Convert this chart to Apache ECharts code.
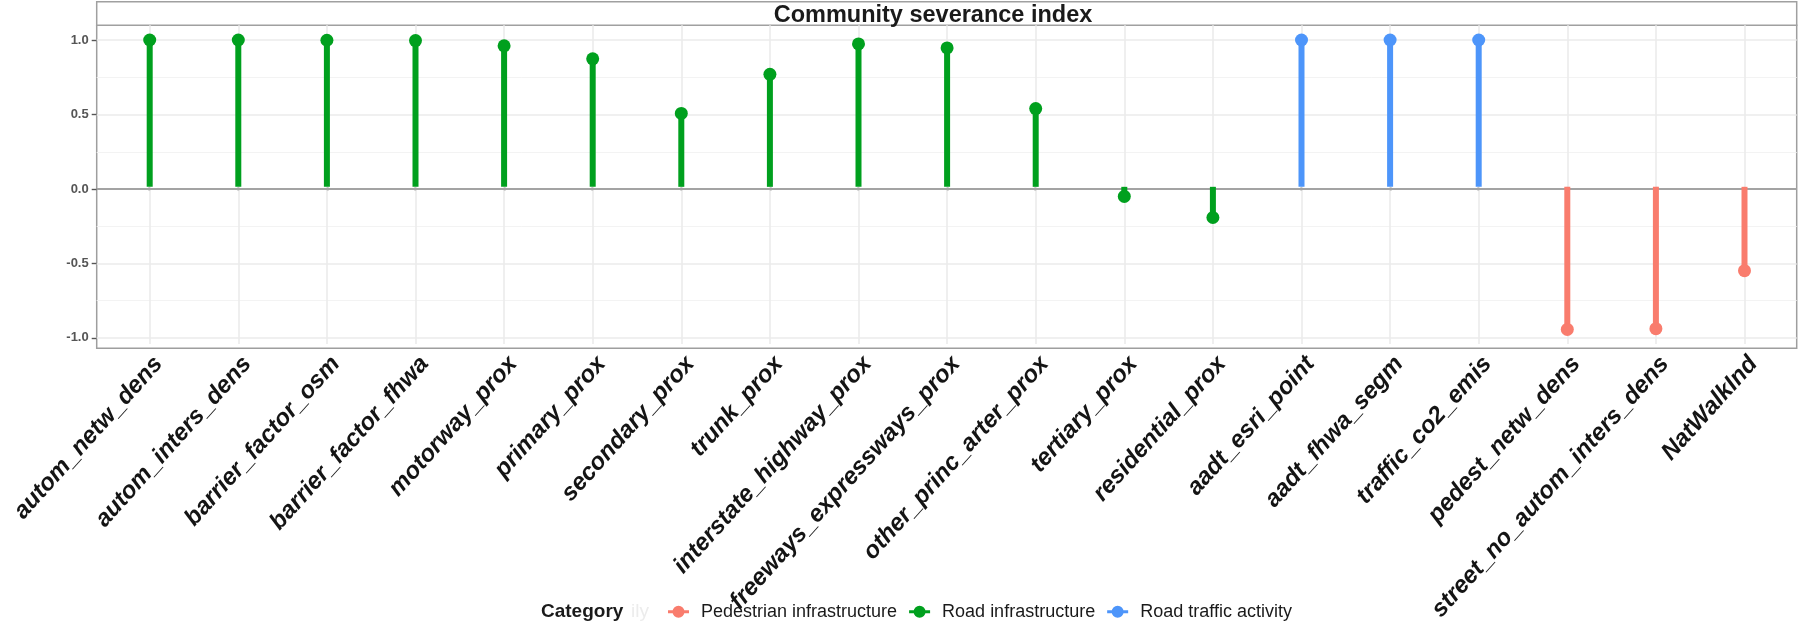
<!DOCTYPE html>
<html>
<head>
<meta charset="utf-8">
<script src="https://cdn.jsdelivr.net/npm/echarts@6/dist/echarts.min.js"></script>
<style>html,body{margin:0;padding:0;background:#fff}#c{width:1800px;height:624px}</style>
</head>
<body>
<div id="c"></div>
<script>
const categories = ['autom_netw_dens','autom_inters_dens','barrier_factor_osm','barrier_factor_fhwa','motorway_prox','primary_prox','secondary_prox','trunk_prox','interstate_highway_prox','freeways_expressways_prox','other_princ_arter_prox','tertiary_prox','residential_prox','aadt_esri_point','aadt_fhwa_segm','traffic_co2_emis','pedest_netw_dens','street_no_autom_inters_dens','NatWalkInd'];
const values = [1.0, 1.0, 0.998, 0.996, 0.96, 0.872, 0.50, 0.766, 0.973, 0.946, 0.533, -0.065, -0.209, 1.0, 1.0, 1.0, -0.971, -0.966, -0.571];
const groups = ['Road infrastructure','Road infrastructure','Road infrastructure','Road infrastructure','Road infrastructure','Road infrastructure','Road infrastructure','Road infrastructure','Road infrastructure','Road infrastructure','Road infrastructure','Road infrastructure','Road infrastructure','Road traffic activity','Road traffic activity','Road traffic activity','Pedestrian infrastructure','Pedestrian infrastructure','Pedestrian infrastructure'];
const groupNames = ['Pedestrian infrastructure','Road infrastructure','Road traffic activity'];
const groupColors = ['#F97C6D','#00A01E','#4D95FA'];
const yTicks = [-1, -0.5, 0, 0.5, 1];
const yMinorTicks = [-0.75, -0.25, 0.25, 0.75];
const yRange = [-1.07, 1.1];

const FONT = 'Liberation Sans, Arial, sans-serif';
const keyPath = 'path://M0,4.5H21V7.5H0Z M10.5,0A6,6,0,1,1,10.49,0Z';

const chart = echarts.init(document.getElementById('c'), null, {renderer: 'canvas'});

const series = [];
// helper series for horizontal grid lines (full panel width)
series.push({
  type: 'line', xAxisIndex: 0, yAxisIndex: 0, data: [], z: 1, silent: true,
  markLine: {
    z: 1, silent: true, symbol: 'none', label: {show: false}, animation: false,
    data: yMinorTicks.map(v => ({yAxis: v, lineStyle: {color: '#f3f3f3', width: 1, type: 'solid'}}))
      .concat(yTicks.filter(v => v !== 0).map(v => ({yAxis: v, lineStyle: {color: '#ebebeb', width: 1.6, type: 'solid'}})))
  }
});
// vertical grid lines at categories
series.push({
  type: 'line', xAxisIndex: 1, yAxisIndex: 1, data: [], z: 1, silent: true,
  markLine: {
    z: 1, silent: true, symbol: 'none', label: {show: false}, animation: false,
    data: categories.map(c => ({xAxis: c, lineStyle: {color: '#ebebeb', width: 1.6, type: 'solid'}}))
  }
});
// zero line
series.push({
  type: 'line', xAxisIndex: 0, yAxisIndex: 0, data: [], z: 1, silent: true,
  markLine: {
    z: 2, silent: true, symbol: 'none', label: {show: false}, animation: false,
    data: [{yAxis: 0, lineStyle: {color: '#a3a3a3', width: 2, type: 'solid'}}]
  }
});

groupNames.forEach((g, gi) => {
  const masked = values.map((v, i) => groups[i] === g ? v : null);
  series.push({
    name: g, type: 'bar', xAxisIndex: 1, yAxisIndex: 1, data: masked,
    barWidth: 6, barGap: '-100%', z: 3,
    itemStyle: {color: groupColors[gi]}, animation: false
  });
  series.push({
    name: g, type: 'scatter', xAxisIndex: 1, yAxisIndex: 1, data: masked,
    symbol: 'circle', symbolSize: 13, z: 4,
    itemStyle: {color: groupColors[gi], opacity: 1}, animation: false
  });
});

const option = {
  backgroundColor: '#ffffff',
  animation: false,
  title: [
    {text: 'Community severance index', left: 933, top: 4, textAlign: 'center', padding: 0,
     textStyle: {fontFamily: FONT, fontWeight: 'bold', fontSize: 23.5, lineHeight: 24, color: '#1a1a1a'}},
    {text: 'Category', left: 541, top: 600.7, padding: 0,
     textStyle: {fontFamily: FONT, fontWeight: 'bold', fontSize: 19, lineHeight: 22, color: '#1a1a1a'}},
    {text: 'ily', left: 631, top: 600.7, padding: 0,
     textStyle: {fontFamily: FONT, fontWeight: 'normal', fontSize: 19, lineHeight: 22, color: '#ececec'}}
  ],
  legend: {
    left: 668, top: 600.7, orient: 'horizontal', padding: 0,
    itemWidth: 21, itemHeight: 12, itemGap: 12,
    selectedMode: false,
    data: groupNames.map(n => ({name: n, icon: keyPath})),
    textStyle: {fontFamily: FONT, fontSize: 18, lineHeight: 22, color: '#1a1a1a', padding: [0, 0, 0, 7]}
  },
  grid: [
    {left: 96.7, right: 3.3, top: 25.3, bottom: 275.7, show: true, borderColor: '#9e9e9e', borderWidth: 1.5, backgroundColor: '#ffffff', z: 0},
    {left: 105.4, width: 1683.4, top: 25.3, bottom: 275.7, show: false},
    {left: 96.7, right: 3.3, top: 1.7, height: 23.6, show: true, borderColor: '#a0a0a0', borderWidth: 1.5, backgroundColor: '#ffffff', z: 0}
  ],
  xAxis: [
    {gridIndex: 0, type: 'value', min: 0, max: 1, show: false},
    {gridIndex: 1, type: 'category', data: categories, boundaryGap: true,
     axisLine: {show: false},
     axisTick: {show: true, alignWithLabel: true, length: 4, lineStyle: {color: '#444', width: 1.4}},
     splitLine: {show: false},
     axisLabel: {interval: 0, rotate: 48, align: 'right', verticalAlign: 'top', margin: 8,
       fontFamily: FONT, fontWeight: 'bold', fontStyle: 'italic', fontSize: 24, color: '#141414'}},
    {gridIndex: 2, type: 'value', min: 0, max: 1, show: false}
  ],
  yAxis: [
    {gridIndex: 0, type: 'value', min: yRange[0], max: yRange[1],
     axisLine: {show: false},
     splitLine: {show: false},
     axisTick: {show: true, length: 5, customValues: yTicks, lineStyle: {color: '#555', width: 1.4}},
     axisLabel: {show: true, customValues: yTicks, margin: 8, formatter: v => Number(v).toFixed(1),
       fontFamily: FONT, fontWeight: 'bold', fontSize: 13, color: '#555555'}},
    {gridIndex: 1, type: 'value', min: yRange[0], max: yRange[1], show: false, splitLine: {show: false}},
    {gridIndex: 2, type: 'value', min: 0, max: 1, show: false}
  ],
  series: series
};
chart.setOption(option);
</script>
</body>
</html>
